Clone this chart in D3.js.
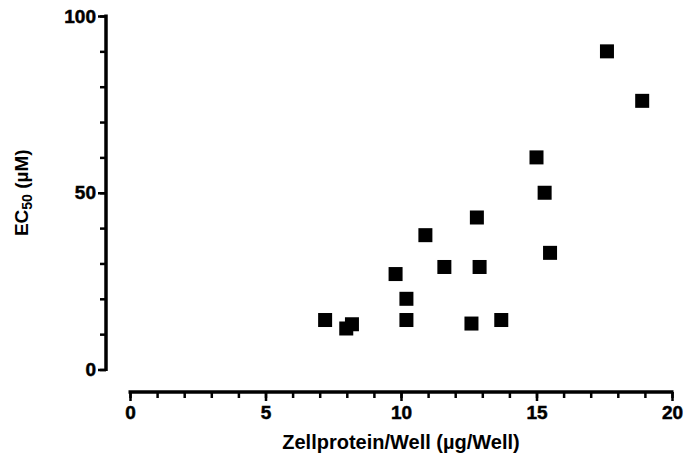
<!DOCTYPE html>
<html>
<head>
<meta charset="utf-8">
<script src="https://cdn.jsdelivr.net/npm/d3@7"></script>
<style>
  body { margin: 0; background: #fff; }
  svg { display: block; }
  .axis path, .axis line { stroke: #000; }
  .axis text { font-family: "Liberation Sans", Arial, sans-serif; font-weight: bold; fill: #000; stroke: #000; stroke-width: 0.5px; }
</style>
</head>
<body>
<div id="chart"></div>
<script>
// Zellprotein/Well (µg/Well) vs EC50 (µM)
const protein = [7.2, 7.98, 8.19, 9.8, 10.2, 10.2, 10.9, 11.6, 12.6, 12.8, 12.9, 13.7, 15.0, 15.3, 15.5, 17.6, 18.9];
const ec50    = [14, 11.6, 12.8, 27, 20, 14, 38, 29, 13, 43, 29, 14, 60, 50, 33, 90, 76];
const xTicks = [0, 5, 10, 15, 20];
const yTicks = [0, 50, 100];

const width = 685, height = 455;
const font = '"Liberation Sans", Arial, sans-serif';

const svg = d3.select('#chart').append('svg')
  .attr('width', width)
  .attr('height', height);

const x = d3.scaleLinear().domain([0, 20]).range([130, 672]);
const y = d3.scaleLinear().domain([0, 100]).range([369.5, 16]);

const xAxisY = 392;
const yAxisX = 106;

// x axis: minor ticks first, then major ticks with labels
svg.append('g')
  .attr('class', 'axis')
  .attr('transform', `translate(0,${xAxisY})`)
  .call(d3.axisBottom(x).tickValues(d3.range(0, 21, 1)).tickSize(6).tickFormat(''))
  .call(g => g.select('.domain').remove())
  .call(g => g.selectAll('line').attr('stroke-width', 2.5));

svg.append('g')
  .attr('class', 'axis')
  .attr('transform', `translate(0,${xAxisY})`)
  .call(d3.axisBottom(x).tickValues(xTicks).tickSize(9).tickSizeOuter(0).tickPadding(5))
  .call(g => g.select('.domain').attr('stroke-width', 3.5).attr('d', `M${x(0) - 1.5},0H${x(20) + 1.5}`))
  .call(g => g.selectAll('line').attr('stroke-width', 2.5))
  .call(g => g.selectAll('text').attr('font-size', 19));

// y axis
svg.append('g')
  .attr('class', 'axis')
  .attr('transform', `translate(${yAxisX},0)`)
  .call(d3.axisLeft(y).tickValues(d3.range(0, 101, 10)).tickSize(6).tickFormat(''))
  .call(g => g.select('.domain').remove())
  .call(g => g.selectAll('line').attr('stroke-width', 2.5));

svg.append('g')
  .attr('class', 'axis')
  .attr('transform', `translate(${yAxisX},0)`)
  .call(d3.axisLeft(y).tickValues(yTicks).tickSize(8).tickSizeOuter(0).tickPadding(2))
  .call(g => g.select('.domain').attr('stroke-width', 3.5).attr('d', `M0,${y(100) - 1.5}V${y(0) + 1.5}`))
  .call(g => g.selectAll('line').attr('stroke-width', 2.5))
  .call(g => g.selectAll('text').attr('font-size', 19));

// points
const size = 14;
svg.append('g')
  .selectAll('rect')
  .data(protein.map((p, i) => ({ p, e: ec50[i] })))
  .join('rect')
  .attr('x', d => x(d.p) - size / 2)
  .attr('y', d => y(d.e) - size / 2)
  .attr('width', size)
  .attr('height', size)
  .attr('fill', '#000');

// axis titles
svg.append('text')
  .attr('x', x(10))
  .attr('y', 449)
  .attr('text-anchor', 'middle')
  .attr('font-family', font)
  .attr('font-weight', 'bold')
  .attr('font-size', 20)
  .text('Zellprotein/Well (µg/Well)');

const yTitle = svg.append('text')
  .attr('transform', `translate(28,${(y(0) + y(100)) / 2}) rotate(-90)`)
  .attr('text-anchor', 'middle')
  .attr('font-family', font)
  .attr('font-weight', 'bold')
  .attr('font-size', 19);
yTitle.append('tspan').text('EC');
yTitle.append('tspan').attr('font-size', 14).attr('dy', 4).text('50');
yTitle.append('tspan').attr('dy', -4).text(' (µM)');
</script>
</body>
</html>
